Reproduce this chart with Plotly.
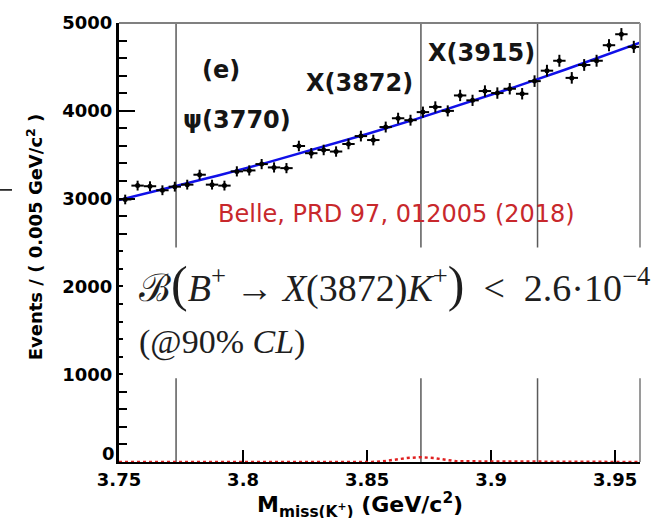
import plotly.graph_objects as go

# Missing-mass spectrum M_miss(K+) in 5 MeV bins
bin_centers = [3.7525, 3.7575, 3.7625, 3.7675, 3.7725, 3.7775, 3.7825, 3.7875,
               3.7925, 3.7975, 3.8025, 3.8075, 3.8125, 3.8175, 3.8225, 3.8275,
               3.8325, 3.8375, 3.8425, 3.8475, 3.8525, 3.8575, 3.8625, 3.8675,
               3.8725, 3.8775, 3.8825, 3.8875, 3.8925, 3.8975, 3.9025, 3.9075,
               3.9125, 3.9175, 3.9225, 3.9275, 3.9325, 3.9375, 3.9425, 3.9475,
               3.9525, 3.9575]
counts = [2990, 3148, 3141, 3095, 3136, 3159, 3272, 3159, 3148, 3310,
          3321, 3393, 3355, 3347, 3599, 3517, 3554, 3536, 3622, 3712,
          3667, 3815, 3915, 3893, 3985, 4044, 3999, 4175, 4119, 4225,
          4202, 4251, 4194, 4338, 4457, 4570, 4375, 4522, 4570, 4747,
          4872, 4728]
count_errors = [55, 56, 56, 56, 56, 56, 57, 56, 56, 58,
                58, 58, 58, 58, 60, 59, 60, 59, 60, 61,
                61, 62, 63, 62, 63, 64, 63, 65, 64, 65,
                65, 65, 65, 66, 67, 68, 66, 67, 68, 69,
                70, 69]
bin_half_width = 0.0025

# Background fit (blue curve)
fit_x = [3.75, 3.77, 3.79, 3.81, 3.83, 3.85, 3.87, 3.89, 3.91, 3.93, 3.95, 3.96]
fit_y = [2985, 3120, 3263, 3413, 3570, 3735, 3908, 4088, 4275, 4470, 4673, 4777]

# X(3872) signal component (red dotted curve)
sig_x = [3.75, 3.852, 3.857, 3.862, 3.866, 3.8717, 3.877, 3.881, 3.886, 3.96]
sig_y = [0, 0, 10, 28, 45, 55, 45, 28, 8, 0]

# Charmonium(-like) state masses marked by vertical lines
state_masses = [3.773, 3.8717, 3.9187]
state_labels = ["\u03c8(3770)", "X(3872)", "X(3915)"]
label_pos_x = [3.7976, 3.8468, 3.896]
label_pos_y = [3890, 4318, 4657]

x_range = [3.75, 3.96]
y_range = [0, 5000]
x_ticks = [3.75, 3.8, 3.85, 3.9, 3.95]
x_ticktext = ["3.75", "3.8", "3.85", "3.9", "3.95"]
y_ticks = [0, 1000, 2000, 3000, 4000, 5000]
y_ticktext = ["", "1000", "2000", "3000", "4000", "5000"]

fig = go.Figure()

fig.add_trace(go.Scatter(
    x=fit_x, y=fit_y, mode="lines",
    line=dict(color="#1010e8", width=2.5), hoverinfo="skip", showlegend=False))

fig.add_trace(go.Scatter(
    x=sig_x, y=sig_y, mode="lines",
    line=dict(color="#e02020", width=2.5, dash="dot"), hoverinfo="skip",
    showlegend=False))

fig.add_trace(go.Scatter(
    x=bin_centers, y=counts, mode="markers",
    marker=dict(color="black", size=5),
    error_x=dict(type="constant", value=bin_half_width, color="black",
                 thickness=2, width=0),
    error_y=dict(type="data", array=count_errors, color="black",
                 thickness=2, width=0),
    showlegend=False))

shapes = []
for m in state_masses:
    shapes.append(dict(type="line", xref="x", yref="paper", x0=m, x1=m,
                       y0=0, y1=1, line=dict(color="#5a5a5a", width=1.5),
                       layer="below"))
# top and right frame edges
shapes.append(dict(type="line", xref="paper", yref="paper", x0=0, x1=1,
                   y0=1, y1=1, line=dict(color="#808080", width=2)))
shapes.append(dict(type="line", xref="paper", yref="paper", x0=1, x1=1,
                   y0=0, y1=1, line=dict(color="#9a9a9a", width=2)))
# white panel behind the branching-fraction result
shapes.append(dict(type="rect", xref="paper", yref="y", x0=0.0077, x1=1.05,
                   y0=954, y1=2444, fillcolor="white",
                   line=dict(width=0), layer="above"))
# small dash at the far left edge
shapes.append(dict(type="line", xref="paper", yref="y", x0=-0.2284, x1=-0.2054,
                   y0=3099, y1=3099, line=dict(color="black", width=1.5)))

bold = dict(family="DejaVu Sans", size=24, color="#151515", weight="bold")
tickfont = dict(family="DejaVu Sans", size=18, color="black", weight="bold")

annotations = [
    dict(x=3.7911, y=4465, xref="x", yref="y", text="(e)", showarrow=False,
         font=bold),
]
for lx, ly, lt in zip(label_pos_x, label_pos_y, state_labels):
    annotations.append(dict(x=lx, y=ly, xref="x", yref="y", text=lt,
                            showarrow=False, font=bold))

annotations.append(dict(
    x=3.8619, y=2828, xref="x", yref="y",
    text="Belle, PRD 97, 012005 (2018)", showarrow=False,
    font=dict(family="DejaVu Sans", size=24, color="#c8282c")))

# zero label of the y axis sits slightly above its tick
annotations.append(dict(
    x=-0.004, y=0.0203, xref="paper", yref="paper", xanchor="right",
    yanchor="middle", text="0", showarrow=False, font=tickfont))

big = "<span style='font-size:50px'>"
gap = "\u00a0\u00a0"
annotations.append(dict(
    x=3.7573, y=2030, xref="x", yref="y", xanchor="left", yanchor="middle",
    text=("\u212c" + big + "(</span><i>B</i><sup>+</sup> \u2192 "
          "<i>X</i>(3872)<i>K</i><sup>+</sup>" + big + ")</span>"
          + gap + "<" + gap + "2.6\u00b710<sup>\u22124</sup>"),
    showarrow=False,
    font=dict(family="Liberation Serif", size=38, color="#1e1e1e")))
annotations.append(dict(
    x=3.7573, y=1372, xref="x", yref="y", xanchor="left", yanchor="middle",
    text="(@90% <i>CL</i>)", showarrow=False,
    font=dict(family="Liberation Serif", size=34, color="#1e1e1e")))

# axis titles
annotations.append(dict(
    x=-0.188, y=0.512, xref="paper", yref="paper",
    text="Events / ( 0.005 GeV/c<sup>2</sup> )", textangle=-90,
    showarrow=False,
    font=dict(family="DejaVu Sans", size=18, color="black", weight="bold")))
annotations.append(dict(
    x=0.4626, y=-0.058, xref="paper", yref="paper", yanchor="top",
    text="M<sub>miss(K<sup>+</sup>)</sub> (GeV/c<sup>2</sup>)",
    showarrow=False,
    font=dict(family="DejaVu Sans", size=22, color="black", weight="bold")))

fig.update_layout(
    width=658, height=518,
    margin=dict(l=119, r=18, t=19, b=56),
    paper_bgcolor="white", plot_bgcolor="white",
    shapes=shapes, annotations=annotations,
    xaxis=dict(range=x_range, tickvals=x_ticks, ticktext=x_ticktext,
               ticks="inside", ticklen=12, tickwidth=1.5, tickcolor="black",
               showline=True, linecolor="black", linewidth=2,
               layer="below traces",
               showgrid=False, zeroline=False, tickfont=tickfont),
    yaxis=dict(range=y_range, tickvals=y_ticks, ticktext=y_ticktext,
               ticks="inside", ticklen=16, tickwidth=1.5, tickcolor="black",
               minor=dict(dtick=200, ticks="inside", ticklen=8,
                          tickwidth=1.5, tickcolor="black"),
               showline=True, linecolor="black", linewidth=3,
               showgrid=False, zeroline=False, tickfont=tickfont),
)

fig.write_html("out.html")
